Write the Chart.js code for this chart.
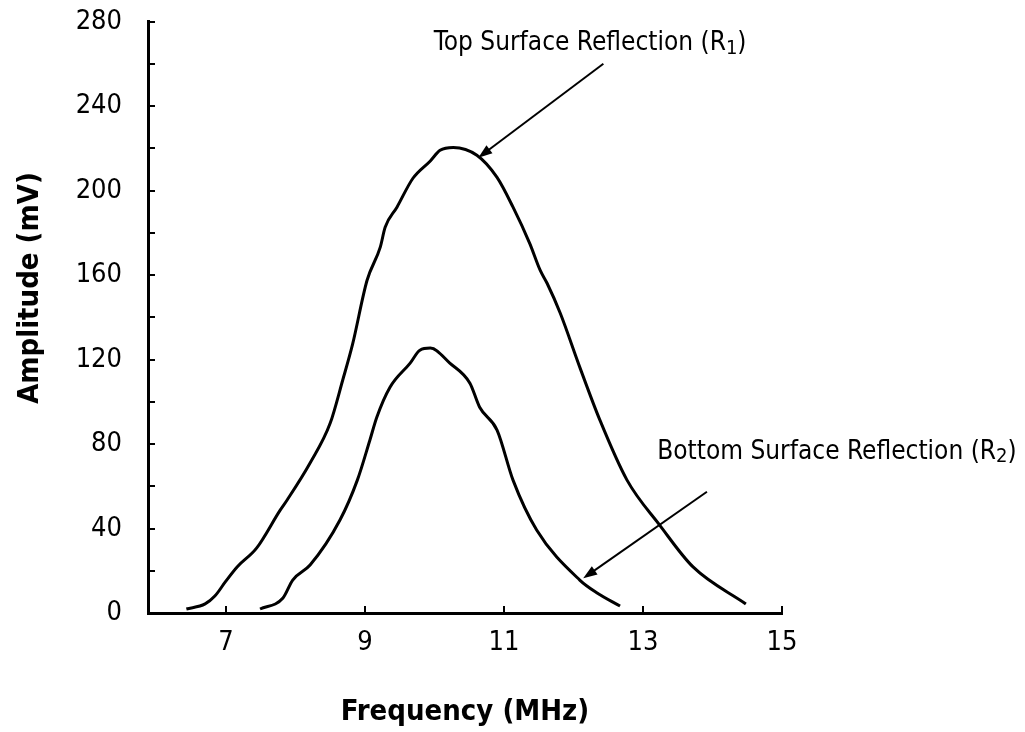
<!DOCTYPE html>
<html>
<head>
<meta charset="utf-8">
<script src="https://cdn.jsdelivr.net/npm/chart.js@4/dist/chart.umd.min.js"></script>
<style>
    html, body { margin: 0; padding: 0; background: #fff; }
</style>
</head>
<body>
<canvas id="myChart" width="1025" height="732"></canvas>
<script>
    // R1 - top surface reflection
    const r1Freq = [6.43, 6.70, 6.84, 6.99, 7.16, 7.44, 7.78, 7.88, 8.21, 8.50, 8.68, 8.82, 9.03, 9.22, 9.29, 9.46, 9.69, 9.94, 10.08, 10.27, 10.61, 10.90, 11.13, 11.37, 11.52, 11.62, 11.81, 12.09, 12.38, 12.77, 13.24, 13.72, 14.48];
    const r1Amp = [1.9, 4.3, 8.0, 14.7, 21.8, 30.7, 48.7, 53.5, 71.0, 89.9, 110.3, 127.0, 157.5, 173.2, 182.6, 192.1, 205.8, 214.0, 219.0, 220.4, 216.7, 206.2, 192.1, 175.0, 162.3, 156.1, 141.9, 116.4, 91.3, 62.9, 41.6, 21.8, 4.3];

    // R2 - bottom surface reflection
    const r2Freq = [7.49, 7.82, 7.96, 8.21, 8.64, 8.89, 9.07, 9.17, 9.36, 9.65, 9.79, 9.94, 10.22, 10.51, 10.65, 10.90, 11.13, 11.47, 12.09, 12.34, 12.67];
    const r2Amp = [1.9, 7.1, 15.6, 22.7, 44.0, 62.9, 81.8, 92.7, 106.9, 118.3, 124.4, 125.4, 118.3, 108.8, 97.4, 86.6, 62.9, 39.3, 15.6, 9.5, 3.3];

    const xTickValues = [7, 9, 11, 13, 15];
    const yTickStep = 20;
    const yLabelStep = 40;

    const FONT = "'DejaVu Sans Condensed', 'DejaVu Sans', sans-serif";

    // annotations (data coords)
    const notes = [
        { text: 'Top Surface Reflection (R', sub: '1', x: 12.24, y: 269.5,
          from: [12.43, 260], to: [10.63, 215.5] },
        { text: 'Bottom Surface Reflection (R', sub: '2', x: 15.79, y: 76.2,
          from: [13.92, 57.4], to: [12.14, 16.4] }
    ];

    function toPoints(xs, ys) {
        return xs.map((x, i) => ({ x: x, y: ys[i] }));
    }

    const decorPlugin = {
        id: 'decor',
        afterDraw(chart) {
            const ctx = chart.ctx;
            const xs = chart.scales.x;
            const ys = chart.scales.y;
            const area = chart.chartArea;
            ctx.save();
            ctx.strokeStyle = '#000';
            ctx.fillStyle = '#000';

            // inward ticks
            ctx.lineWidth = 2;
            ys.ticks.forEach(t => {
                const py = Math.round(ys.getPixelForValue(t.value));
                ctx.beginPath();
                ctx.moveTo(area.left, py);
                ctx.lineTo(area.left + 7, py);
                ctx.stroke();
            });
            xs.ticks.forEach(t => {
                const px = Math.round(xs.getPixelForValue(t.value));
                ctx.beginPath();
                ctx.moveTo(px, area.bottom);
                ctx.lineTo(px, area.bottom - 7);
                ctx.stroke();
            });

            // axis titles
            ctx.font = 'bold 29px ' + FONT;
            ctx.textAlign = 'center';
            ctx.textBaseline = 'middle';
            ctx.fillText('Frequency (MHz)', (area.left + area.right) / 2, 712);
            ctx.save();
            ctx.translate(30, 288);
            ctx.rotate(-Math.PI / 2);
            ctx.fillText('Amplitude (mV)', 0, 0);
            ctx.restore();

            // notes with subscripts and arrows
            notes.forEach(n => {
                const mainFont = '26px ' + FONT;
                const subFont = '20px ' + FONT;
                ctx.font = mainFont;
                const w1 = ctx.measureText(n.text).width;
                ctx.font = subFont;
                const w2 = ctx.measureText(n.sub).width;
                ctx.font = mainFont;
                const w3 = ctx.measureText(')').width;
                const total = w1 + w2 + w3;
                const cx = xs.getPixelForValue(n.x);
                const cy = ys.getPixelForValue(n.y);
                const x0 = cx - total / 2;
                ctx.textAlign = 'left';
                ctx.textBaseline = 'middle';
                ctx.fillText(n.text, x0, cy);
                ctx.font = subFont;
                ctx.fillText(n.sub, x0 + w1, cy + 5);
                ctx.font = mainFont;
                ctx.fillText(')', x0 + w1 + w2, cy);

                const ax = xs.getPixelForValue(n.from[0]);
                const ay = ys.getPixelForValue(n.from[1]);
                const bx = xs.getPixelForValue(n.to[0]);
                const by = ys.getPixelForValue(n.to[1]);
                const ang = Math.atan2(by - ay, bx - ax);
                const hl = 14, hw = 5;
                ctx.lineWidth = 2;
                ctx.beginPath();
                ctx.moveTo(ax, ay);
                ctx.lineTo(bx - Math.cos(ang) * hl * 0.8, by - Math.sin(ang) * hl * 0.8);
                ctx.stroke();
                ctx.beginPath();
                ctx.moveTo(bx, by);
                ctx.lineTo(bx - Math.cos(ang) * hl - Math.sin(ang) * hw, by - Math.sin(ang) * hl + Math.cos(ang) * hw);
                ctx.lineTo(bx - Math.cos(ang) * hl + Math.sin(ang) * hw, by - Math.sin(ang) * hl - Math.cos(ang) * hw);
                ctx.closePath();
                ctx.fill();
            });
            ctx.restore();
        }
    };

    const ctx = document.getElementById('myChart').getContext('2d');
    const chart = new Chart(ctx, {
        type: 'scatter',
        data: {
            datasets: [
                {
                    label: 'Top Surface Reflection (R1)',
                    data: toPoints(r1Freq, r1Amp),
                    showLine: true,
                    borderColor: '#000',
                    borderWidth: 3,
                    pointRadius: 0,
                    cubicInterpolationMode: 'monotone'
                },
                {
                    label: 'Bottom Surface Reflection (R2)',
                    data: toPoints(r2Freq, r2Amp),
                    showLine: true,
                    borderColor: '#000',
                    borderWidth: 3,
                    pointRadius: 0,
                    cubicInterpolationMode: 'monotone'
                }
            ]
        },
        options: {
            responsive: false,
            animation: false,
            devicePixelRatio: 1,
            layout: { padding: { left: 0, top: 0, right: 243, bottom: 0 } },
            plugins: {
                legend: { display: false },
                tooltip: { enabled: false }
            },
            scales: {
                x: {
                    type: 'linear',
                    min: 5.878,
                    max: 15,
                    afterBuildTicks: scale => {
                        scale.ticks = xTickValues.map(v => ({ value: v }));
                    },
                    afterFit: scale => { scale.height = 119; },
                    grid: { display: false, drawTicks: false },
                    border: { display: true, color: '#000', width: 3 },
                    ticks: {
                        color: '#000',
                        font: { family: FONT, size: 27 },
                        padding: 14,
                        maxRotation: 0,
                        autoSkip: false
                    }
                },
                y: {
                    min: 0,
                    max: 280,
                    afterFit: scale => {
                        scale.width = 148;
                        scale.paddingTop = 21.5;
                        scale.paddingBottom = 0;
                    },
                    grid: { display: false, drawTicks: false },
                    border: { display: true, color: '#000', width: 3 },
                    ticks: {
                        stepSize: yTickStep,
                        color: '#000',
                        font: { family: FONT, size: 27 },
                        padding: 26,
                        autoSkip: false,
                        callback: v => (v % yLabelStep === 0 ? String(v) : '')
                    }
                }
            }
        },
        plugins: [decorPlugin]
    });
</script>
</body>
</html>
